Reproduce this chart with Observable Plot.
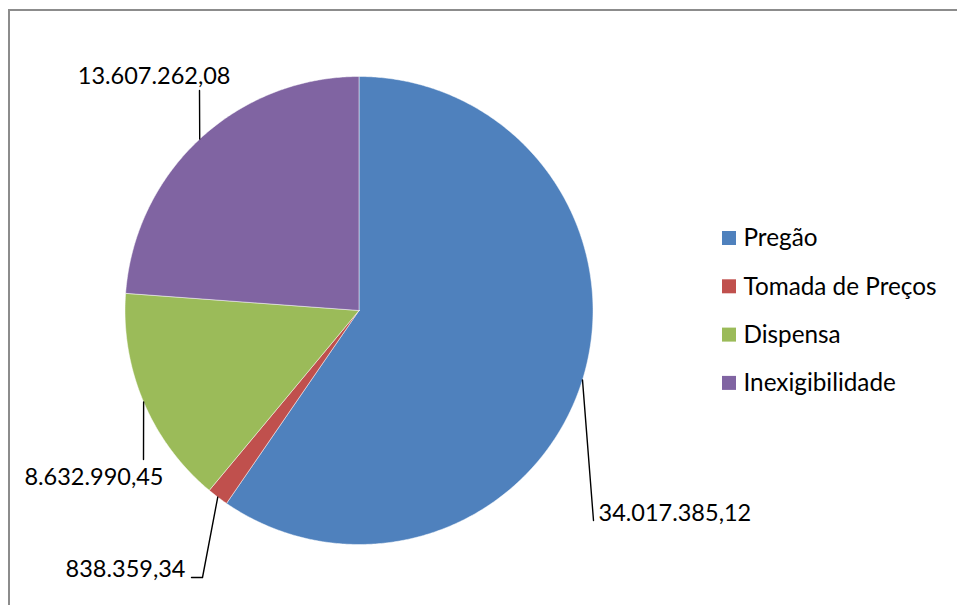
<!DOCTYPE html>
<html><head><meta charset="utf-8">
<script src="https://cdn.jsdelivr.net/npm/d3@7"></script>
<script src="https://cdn.jsdelivr.net/npm/@observablehq/plot@0.6"></script>
<style>
body{margin:0;background:#fff;}
#wrap{position:relative;width:957px;height:605px;overflow:hidden;}
#wrap svg{position:absolute;left:0;top:0;}
#frame{position:absolute;left:8px;top:9px;width:2000px;height:2000px;border:2px solid #8c8c8c;pointer-events:none;}
</style></head><body><div id="wrap"><div id="frame"></div></div>
<script>
const categories = ["Pregão", "Tomada de Preços", "Dispensa", "Inexigibilidade"];
const values = [34017385.12, 838359.34, 8632990.45, 13607262.08];
const valueLabels = ["34.017.385,12", "838.359,34", "8.632.990,45", "13.607.262,08"];
const colors = ["#4F81BD", "#C0504D", "#9BBB59", "#8064A2"];

const W = 957, H = 605, cx = 358.5, cy = 310, R = 234;
const ux = px => (px - cx) / R, uy = py => (py - cy) / R;

const rows = categories.map((c, i) => ({category: c, value: values[i], label: valueLabels[i]}));
const arcs = d3.pie().sort(null).value(d => d.value)(rows);

const slices = [];
arcs.forEach(a => {
  const n = Math.max(2, Math.ceil((a.endAngle - a.startAngle) / (Math.PI / 360)));
  slices.push({category: a.data.category, x: 0, y: 0});
  for (let k = 0; k <= n; k++) {
    const t = a.startAngle + (a.endAngle - a.startAngle) * k / n;
    slices.push({category: a.data.category, x: Math.sin(t), y: -Math.cos(t)});
  }
  slices.push({category: a.data.category, x: 0, y: 0});
});

// label layout (pixels)
const layout = {
  "Pregão": {tx: 598, ty: 513, anchor: "start", path: [[593, 520]]},
  "Tomada de Preços": {tx: 185, ty: 569, anchor: "end", path: [[202, 577], [191, 577]]},
  "Dispensa": {tx: 163, ty: 477, anchor: "end", path: [[143, 459]]},
  "Inexigibilidade": {tx: 230, ty: 76, anchor: "end", path: [[199, 90]]}
};

const leaders = [];
const labelPts = [];
arcs.forEach(a => {
  const c = a.data.category, L = layout[c];
  const m = (a.startAngle + a.endAngle) / 2;
  leaders.push({category: c, x: Math.sin(m), y: -Math.cos(m)});
  L.path.forEach(p => leaders.push({category: c, x: ux(p[0]), y: uy(p[1])}));
  labelPts.push({category: c, label: a.data.label, x: ux(L.tx), y: uy(L.ty), anchor: L.anchor});
});

const legendRows = categories.map((c, i) => ({category: c, yc: 238 + 48.3 * i}));

const plot = Plot.plot({
  width: W, height: H,
  x: {domain: [-1, 1], range: [cx - R, cx + R], axis: null},
  y: {domain: [-1, 1], range: [cy - R, cy + R], axis: null},
  color: {domain: categories, range: colors},
  style: {fontFamily: "Lato, 'Open Sans', sans-serif", fontSize: "23.5px", color: "#000", background: "transparent"},
  marks: [
    Plot.line(slices, {x: "x", y: "y", z: "category", fill: "category", stroke: "#ffffff", strokeOpacity: 0.6, strokeWidth: 0.8, curve: "linear"}),
    Plot.line(leaders, {x: "x", y: "y", z: "category", stroke: "#000", strokeWidth: 1.4, curve: "linear"}),
    Plot.text(labelPts.filter(d => d.anchor === "start"), {x: "x", y: "y", text: "label", textAnchor: "start", fill: "#000"}),
    Plot.text(labelPts.filter(d => d.anchor === "end"), {x: "x", y: "y", text: "label", textAnchor: "end", fill: "#000"}),
    Plot.rect(legendRows, {x1: () => ux(722), x2: () => ux(736), y1: d => uy(d.yc - 7), y2: d => uy(d.yc + 7), fill: "category"}),
    Plot.text(legendRows, {x: () => ux(743), y: d => uy(d.yc), text: "category", textAnchor: "start", fill: "#000", fontSize: 24.3})
  ]
});
document.getElementById("wrap").insertBefore(plot, document.getElementById("frame"));
</script>
</body></html>
